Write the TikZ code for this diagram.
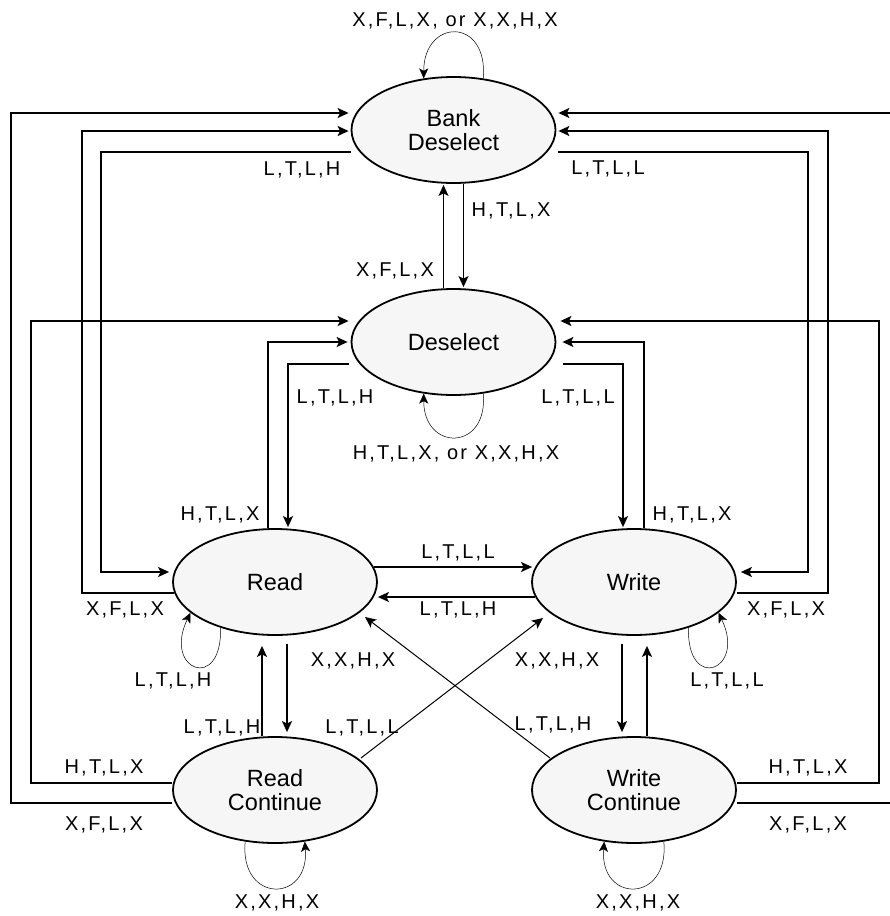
\documentclass[tikz,border=0pt]{standalone}
\usepackage{fontspec}
\setmainfont{Liberation Sans}
\newfontfamily\lblfont[LetterSpace=11]{Liberation Sans}
\usetikzlibrary{shapes.geometric, arrows.meta, calc}
\definecolor{stategray}{gray}{0.965}

\begin{document}
\begin{tikzpicture}[x=1pt, y=-1pt,
        state/.style={ellipse, draw, line width=1.8pt, fill=stategray, minimum width=204pt,
            minimum height=106pt, inner sep=0pt, align=center, font=\fontsize{23.5}{24}\selectfont},
        wire/.style={line width=1.6pt, -{Stealth[length=11pt,width=10pt,inset=2.5pt]}},
        cross/.style={line width=1pt, -{Stealth[length=11pt,width=10pt,inset=2.5pt]}},
        loopline/.style={line width=0.5pt, -{Stealth[length=10pt,width=9pt,inset=2.5pt]}},
        lbl/.style={anchor=base, inner sep=0pt, font=\lblfont\fontsize{20}{22}\selectfont}]
    \useasboundingbox (0,0) rectangle (890,916);
    \clip (0,0) rectangle (890,916);

    % states
    \node[state] (bd) at (453.5,130) {Bank\\Deselect};
    \node[state] (ds) at (453.5,342) {Deselect};
    \node[state] (rd) at (275,582) {Read};
    \node[state] (wr) at (634,582) {Write};
    \node[state] (rc) at (275,790) {Read\\Continue};
    \node[state] (wc) at (634,790) {Write\\Continue};

    % back to bank deselect
    \draw[wire] ($(rc.west)+(0,13)$) -| (11,113) -- ($(bd.west)+(-2,-17)$);
    \draw[wire] ($(rd.west)+(2,11)$) -| (82,131) -- ($(bd.west)+(-2,1)$);
    \draw[wire] ($(bd.west)+(0,22)$) -| (101,572) -- ($(rd.west)+(-3,-10)$);
    \draw[wire] ($(wc.east)+(0,13)$) -| (893,113) -- ($(bd.east)+(2,-17)$);
    \draw[wire] ($(wr.east)+(0,11)$) -| (828,131) -- ($(bd.east)+(2,1)$);
    \draw[wire] ($(bd.east)+(2,22)$) -| (808,572) -- ($(wr.east)+(4,-10)$);

    % back to deselect
    \draw[wire] ($(rc.west)+(0,-7)$) -| (31,321) -- ($(ds.west)+(-2,-21)$);
    \draw[wire] ($(rd.north)+(-7,0)$) |- ($(ds.west)+(-3,0)$);
    \draw[wire] ($(ds.west)+(-2,22)$) -| ($(rd.north)+(13,-1)$);
    \draw[wire] ($(wc.east)+(0,-7)$) -| (879,321) -- ($(ds.east)+(4,-21)$);
    \draw[wire] ($(wr.north)+(10,0)$) |- ($(ds.east)+(6,0)$);
    \draw[wire] ($(ds.east)+(7,22)$) -| ($(wr.north)+(-11,-1)$);

    % straight pairs
    \draw[wire] ($(ds.north)+(-10,0)$) -- ($(bd.south)+(-10,1)$);
    \draw[wire] ($(bd.south)+(10,0)$) -- ($(ds.north)+(10,-1)$);
    \draw[wire] ($(rd.east)+(-4,-15)$) -- ($(wr.west)+(1,-15)$);
    \draw[wire] ($(wr.west)+(4,15)$) -- ($(rd.east)+(0,15)$);
    \draw[wire] ($(rc.north)+(-13,0)$) -- ($(rd.south)+(-13,10)$);
    \draw[wire] ($(rd.south)+(12,8)$) -- ($(rc.north)+(12,-4)$);
    \draw[wire] ($(wr.south)+(-12,8)$) -- ($(wc.north)+(-12,-4)$);
    \draw[wire] ($(wc.north)+(13,0)$) -- ($(wr.south)+(13,10)$);

    % diagonals
    \draw[cross] ($(rc.center)+(86,-32)$) -- ($(wr.center)+(-91,36)$);
    \draw[cross] ($(wc.center)+(-84,-32)$) -- ($(rd.center)+(90,35)$);

    % self loops
    \draw[loopline] (bd.60) .. controls +(5,-62) and +(0,-60) .. (bd.120);
    \draw[loopline] (ds.-60) .. controls +(5,58) and +(0,58) .. (ds.-120);
    \draw[loopline] (rd.220) .. controls +(2,65) and +(-28,58) .. (rd.200);
    \draw[loopline] (wr.-40) .. controls +(-2,65) and +(28,58) .. (wr.-20);
    \draw[loopline] (rc.-120) .. controls +(-6,62) and +(5,62) .. (rc.-60);
    \draw[loopline] (wc.-60) .. controls +(6,62) and +(-5,62) .. (wc.-120);

    % labels
    \foreach \x/\y/\t [count=\i] in {455/26/{X,F,L,X, or X,X,H,X}, 302/175/{L,T,L,H},
            608/174/{L,T,L,L}, 511/216/{H,T,L,X}, 395/276/{X,F,L,X}, 335/403/{L,T,L,H},
            578/403/{L,T,L,L}, 456/459/{H,T,L,X, or X,X,H,X}, 220/520/{H,T,L,X},
            692/520/{H,T,L,X}, 458/558/{L,T,L,L}, 458/615/{L,T,L,H}, 125/615/{X,F,L,X},
            786/615/{X,F,L,X}, 173/686/{L,T,L,H}, 353/666/{X,X,H,X}, 557/666/{X,X,H,X},
            727/686/{L,T,L,L}, 222/733/{L,T,L,H}, 362/733/{L,T,L,L}, 553/730/{L,T,L,H},
            104/773/{H,T,L,X}, 104/830/{X,F,L,X}, 808/773/{H,T,L,X}, 808/830/{X,F,L,X},
            277/908/{X,X,H,X}, 638/908/{X,X,H,X}} {
        \node[lbl] (lab\i) at (\x,\y) {\t};
    }
\end{tikzpicture}
\end{document}
